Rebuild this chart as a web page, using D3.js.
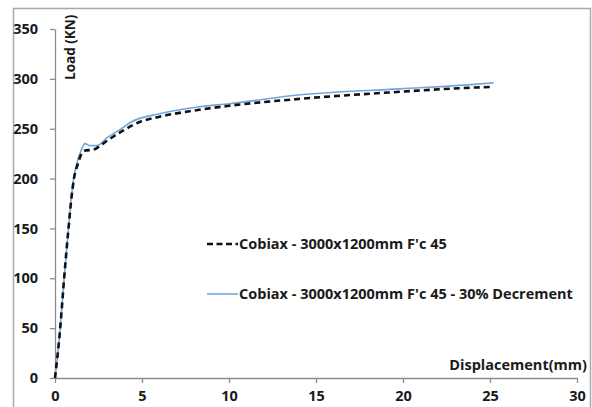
<!DOCTYPE html>
<html>
<head>
<meta charset="utf-8">
<script src="https://cdn.jsdelivr.net/npm/d3@7"></script>
<style>
  body { margin: 0; background: #fff; }
  text { font-family: "Open Sans", sans-serif; font-weight: bold; fill: #1a1a1a; }
</style>
</head>
<body>
<div id="chart"></div>
<script>
// les données
var seriesNames = ["Cobiax - 3000x1200mm F'c 45", "Cobiax - 3000x1200mm F'c 45 - 30% Decrement"];
var dispBase = [0, 0.29, 0.52, 0.77, 0.96, 1.09, 1.3, 1.5, 1.7, 2.2, 2.6, 3.0, 3.9, 4.9, 6.0, 8.3, 10, 14.1, 19.8, 23.7, 25.2];
var loadBase = [0, 48, 99, 149, 183, 200, 214, 224, 228, 229, 233, 238, 248, 257, 262, 269, 273, 280, 287, 291, 292];
var dispDec = [0, 0.29, 0.52, 0.77, 0.96, 1.09, 1.28, 1.5, 1.72, 2.0, 2.4, 3.0, 3.9, 4.3, 6.0, 8.3, 10, 14.1, 19.8, 23.7, 25.2];
var loadDec = [0, 48, 99, 149, 184, 202, 217, 228, 235, 233, 233, 241, 251, 256, 265, 272, 275, 284, 290, 294, 296];
var xTicks = [0, 5, 10, 15, 20, 25, 30];
var yTicks = [0, 50, 100, 150, 200, 250, 300, 350];

var width = 592, height = 407;

var svg = d3.select("#chart").append("svg")
    .attr("width", width)
    .attr("height", height);

// cadre gris autour du graphique
svg.append("rect")
    .attr("x", 13.5).attr("y", 8.5)
    .attr("width", 577).attr("height", 420)
    .attr("fill", "none")
    .attr("stroke", "#a8a8a8")
    .attr("stroke-width", 1.5);

var x = d3.scaleLinear().domain([0, 30]).range([55, 577]);
var y = d3.scaleLinear().domain([0, 350]).range([378, 29]);

// axe x
var gx = svg.append("g")
    .attr("transform", "translate(0," + y(0) + ")")
    .call(d3.axisBottom(x).tickValues(xTicks).tickSize(5).tickPadding(4).tickSizeOuter(0));

// axe y
var gy = svg.append("g")
    .attr("transform", "translate(" + x(0) + ",0)")
    .call(d3.axisLeft(y).tickValues(yTicks).tickSize(5).tickPadding(12).tickSizeOuter(0));

[gx, gy].forEach(function (g) {
    g.select(".domain").attr("stroke", "#8c8c8c").attr("stroke-width", 1.3);
    g.selectAll(".tick line").attr("stroke", "#8c8c8c").attr("stroke-width", 1.3);
    g.selectAll(".tick text").style("font-size", "14.5px").style("font-family", "'Open Sans', sans-serif").attr("fill", "#1a1a1a");
});
gx.selectAll(".tick text").attr("dy", "0.95em");

// titres des axes
svg.append("text")
    .attr("transform", "translate(75,80) rotate(-90)")
    .style("font-size", "13.5px")
    .text("Load (KN)");

svg.append("text")
    .attr("x", 587).attr("y", 370)
    .attr("text-anchor", "end")
    .style("font-size", "14.5px")
    .text("Displacement(mm)");

var line = d3.line()
    .x(function (d) { return x(d[0]); })
    .y(function (d) { return y(d[1]); })
    .curve(d3.curveMonotoneX);

var dataBase = dispBase.map(function (d, i) { return [d, loadBase[i]]; });
var dataDec = dispDec.map(function (d, i) { return [d, loadDec[i]]; });

svg.append("path")
    .datum(dataDec)
    .attr("d", line)
    .attr("fill", "none")
    .attr("stroke", "#72a7dc")
    .attr("stroke-width", 1.6);

svg.append("path")
    .datum(dataBase)
    .attr("d", line)
    .attr("fill", "none")
    .attr("stroke", "#111")
    .attr("stroke-width", 2.6)
    .attr("stroke-dasharray", "6,4");

// légende
var legend = [
    { name: seriesNames[0], color: "#111", w: 2.6, dash: "6,3.5", yy: 244 },
    { name: seriesNames[1], color: "#72a7dc", w: 1.6, dash: null, yy: 294 }
];
legend.forEach(function (l) {
    svg.append("line")
        .attr("x1", 207).attr("x2", 238)
        .attr("y1", l.yy).attr("y2", l.yy)
        .attr("stroke", l.color)
        .attr("stroke-width", l.w)
        .attr("stroke-dasharray", l.dash);
    svg.append("text")
        .attr("x", 239).attr("y", l.yy + 5)
        .style("font-size", "14.5px")
        .text(l.name);
});
</script>
</body>
</html>
